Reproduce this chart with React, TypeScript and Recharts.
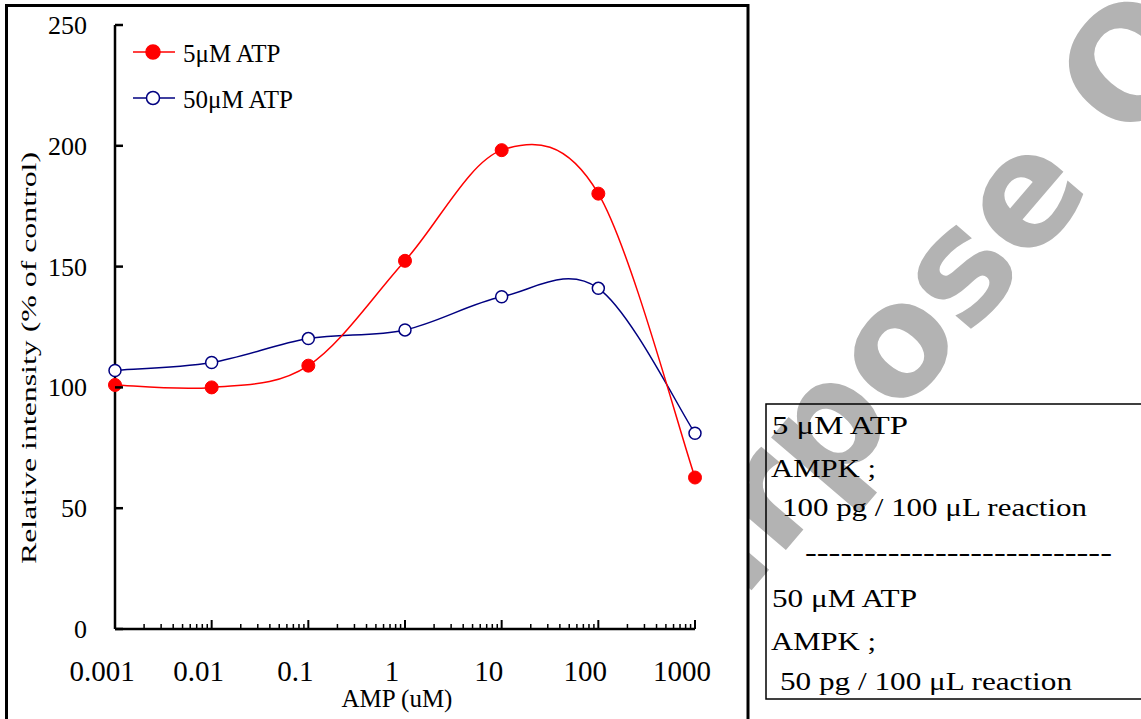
import React from "react";
import { LineChart, Line, XAxis, YAxis, Legend } from "recharts";

// AMP concentration (uM) and relative intensity (% of control)
const amp = [0.001, 0.01, 0.1, 1, 10, 100, 1000];
const atp5 = [101, 100, 109, 152.4, 198.2, 180.2, 62.7];
const atp50 = [107, 110.3, 120.2, 123.8, 137.5, 141, 81];

const decadeLabels = ["0.001", "0.01", "0.1", "1", "10", "100", "1000"];
const minorSteps = [2, 3, 4, 5, 6, 7, 8, 9];
const yTicks = [0, 50, 100, 150, 200, 250];

const boxLines = [
  "5 μM ATP",
  "AMPK ;",
  "100 pg / 100 μL reaction",
  "--------------------------",
  "50 μM ATP",
  "AMPK ;",
  "50 pg / 100 μL reaction",
];

const data = amp.map((x, i) => ({ x, red: atp5[i], blue: atp50[i] }));

const xTicks = [
  ...amp,
  ...amp.slice(0, -1).flatMap((d) => minorSteps.map((m) => +(d * m).toPrecision(6))),
].sort((a, b) => a - b);

const serif = "'Liberation Serif', 'Times New Roman', serif";

// Excel-style smoothed line (bezier, control points at 1/6 of neighbour span)
const excelSmooth: any = (context: any) => {
  let pts: number[][] = [];
  return {
    areaStart() {},
    areaEnd() {},
    lineStart() {
      pts = [];
    },
    point(x: number, y: number) {
      pts.push([+x, +y]);
    },
    lineEnd() {
      if (!pts.length) return;
      context.moveTo(pts[0][0], pts[0][1]);
      for (let i = 0; i < pts.length - 1; i++) {
        const p0 = pts[i - 1] || pts[i];
        const p1 = pts[i];
        const p2 = pts[i + 1];
        const p3 = pts[i + 2] || p2;
        context.bezierCurveTo(
          p1[0] + (p2[0] - p0[0]) / 6,
          p1[1] + (p2[1] - p0[1]) / 6,
          p2[0] - (p3[0] - p1[0]) / 6,
          p2[1] - (p3[1] - p1[1]) / 6,
          p2[0],
          p2[1]
        );
      }
    },
  };
};

const XTick = (props: any) => {
  const { x, y, payload } = props;
  const v = payload.value;
  const idx = amp.findIndex((d) => Math.abs(d - v) < d * 1e-6);
  if (idx < 0) {
    return <line x1={x} y1={y} x2={x} y2={y - 5} stroke="#000" strokeWidth={1.5} />;
  }
  return (
    <g>
      <line x1={x} y1={y} x2={x} y2={y - 9} stroke="#000" strokeWidth={2} />
      <text x={x - 13} y={y + 52} textAnchor="middle" fontSize={29} fontFamily={serif} fill="#000">
        {decadeLabels[idx]}
      </text>
    </g>
  );
};

const YTick = (props: any) => {
  const { x, y, payload } = props;
  return (
    <g>
      <line x1={x} y1={y} x2={x + 8} y2={y} stroke="#000" strokeWidth={2.5} />
      <text x={x - 28} y={y + 9} textAnchor="end" fontSize={26} fontFamily={serif} fill="#000">
        {payload.value}
      </text>
    </g>
  );
};

const LegendContent = (props: any) => {
  const items = [...(props.payload || [])].sort((a: any, b: any) =>
    a.dataKey === "red" ? -1 : b.dataKey === "red" ? 1 : 0
  );
  return (
    <svg width={220} height={95} style={{ display: "block" }}>
      {items.map((it: any, i: number) => {
        const cy = 22 + i * 46;
        const filled = it.dataKey === "red";
        return (
          <g key={it.dataKey}>
            <line x1={8} y1={cy} x2={50} y2={cy} stroke={it.color} strokeWidth={1.5} />
            <circle
              cx={28}
              cy={cy}
              r={filled ? 7 : 6.5}
              fill={filled ? it.color : "#fff"}
              stroke={it.color}
              strokeWidth={1.5}
            />
            <text x={58} y={cy + 10} fontSize={25} fontFamily={serif} fill="#000">
              {it.value}
            </text>
          </g>
        );
      })}
    </svg>
  );
};

export default function App() {
  return (
    <div style={{ position: "absolute", left: 0, top: 0, width: 1141, height: 719, overflow: "hidden", background: "#fff" }}>
      {/* watermark */}
      <svg width={1141} height={719} style={{ position: "absolute", left: 0, top: 0 }}>
        <text
          x={633}
          y={729}
          transform="rotate(-49.5 633 729)"
          fontSize={154}
          fontWeight="bold"
          fontFamily="'DejaVu Sans', Verdana, sans-serif"
          fill="#b3b3b3"
        >
          Purpose Only
        </text>
      </svg>
      <div style={{ position: "absolute", left: 0, top: 0, width: 748, height: 719, background: "#fff" }} />
      <div style={{ position: "absolute", left: 0, top: 0 }}>
        <LineChart width={1141} height={719} data={data} margin={{ top: 25, right: 446, bottom: 89, left: 114 }}>
          <XAxis
            dataKey="x"
            type="number"
            scale="log"
            domain={[0.001, 1000]}
            ticks={xTicks}
            interval={0}
            height={1}
            tickSize={0}
            tickMargin={0}
            tickLine={false}
            axisLine={{ stroke: "#000", strokeWidth: 2.5 }}
            tick={(p: any) => <XTick {...p} />}
          />
          <YAxis
            type="number"
            domain={[0, 250]}
            ticks={yTicks}
            interval={0}
            width={1}
            tickSize={0}
            tickMargin={0}
            tickLine={false}
            axisLine={{ stroke: "#000", strokeWidth: 2.5 }}
            tick={(p: any) => <YTick {...p} />}
          />
          <Legend
            layout="vertical"
            align="center"
            verticalAlign="middle"
            wrapperStyle={{ left: 125, top: 30, width: 220 }}
            content={(p: any) => <LegendContent {...p} />}
          />
          <Line
            dataKey="blue"
            name="50μM ATP"
            type={excelSmooth}
            stroke="#000080"
            strokeWidth={1.5}
            dot={{ r: 6, fill: "#fff", stroke: "#000080", strokeWidth: 1.5 }}
            isAnimationActive={false}
          />
          <Line
            dataKey="red"
            name="5μM ATP"
            type={excelSmooth}
            stroke="#ff0000"
            strokeWidth={1.5}
            dot={{ r: 6.5, fill: "#ff0000", stroke: "#ff0000", strokeWidth: 1 }}
            isAnimationActive={false}
          />
        </LineChart>
      </div>
      {/* frame, axis titles, note box */}
      <svg width={1141} height={719} style={{ position: "absolute", left: 0, top: 0, pointerEvents: "none" }}>
        <rect x={6.5} y={5.5} width={741.5} height={760} fill="none" stroke="#000" strokeWidth={3} />
        <text
          x={0}
          y={0}
          transform="translate(36 358) rotate(-90)"
          textAnchor="middle"
          fontSize={22}
          fontFamily={serif}
          textLength={412}
          lengthAdjust="spacingAndGlyphs"
          fill="#000"
        >
          Relative intensity (% of control)
        </text>
        <text x={397} y={707} textAnchor="middle" fontSize={25} fontFamily={serif} fill="#000">
          AMP (uM)
        </text>
        <rect x={766} y={404} width={400} height={295} fill="none" stroke="#000" strokeWidth={1.5} />
        {boxLines.map((t, i) => {
          const ys = [434, 477, 516, 561, 607, 650, 690];
          const xs = [772, 771, 782, 805, 772, 771, 780];
          const ws = [136, 105, 305, 307, 145, 105, 292];
          return (
            <text
              key={i}
              x={xs[i]}
              y={ys[i]}
              fontSize={25}
              fontFamily={serif}
              textLength={ws[i]}
              lengthAdjust="spacingAndGlyphs"
              fill="#000"
            >
              {t}
            </text>
          );
        })}
      </svg>
    </div>
  );
}
